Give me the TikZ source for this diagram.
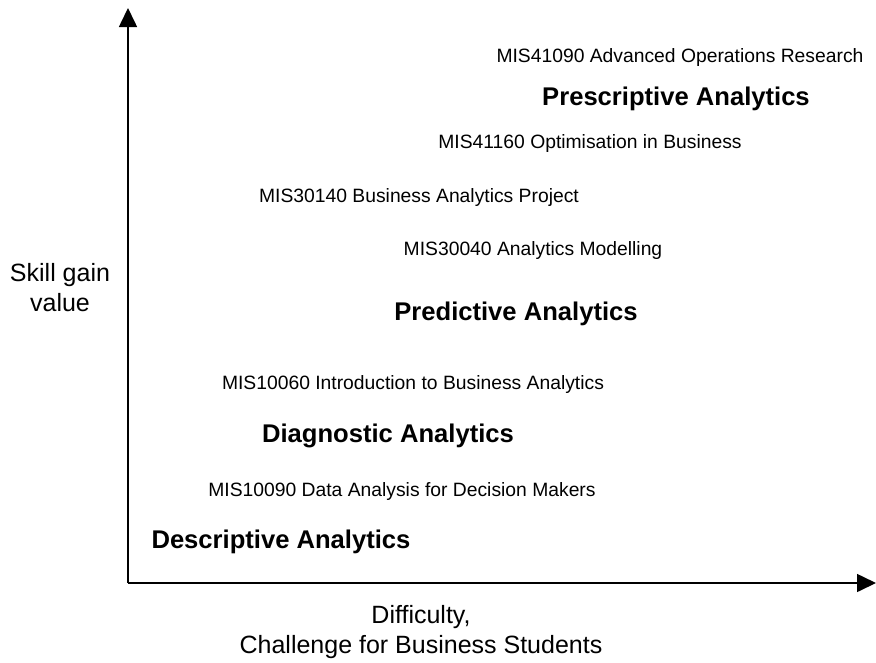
\documentclass[tikz,border=0pt]{standalone}
\usepackage{fontspec}
\setmainfont{Liberation Sans}
\usetikzlibrary{arrows.meta}
\begin{document}
\begin{tikzpicture}[x=1pt,y=-1pt,
  course/.style={font=\fontsize{19.3}{22}\selectfont, anchor=center, inner sep=0pt},
  level/.style={font=\fontsize{25.6}{30}\selectfont\bfseries, anchor=center, inner sep=0pt},
  axislabel/.style={font=\fontsize{25}{30}\selectfont, align=center, anchor=center, inner sep=0pt},
  axis/.style={line width=1.6pt, -{Triangle[length=19pt,width=18pt]}}]
\useasboundingbox (0,0) rectangle (876,662);
% axes
\coordinate (origin) at (128,583);
\coordinate (ytip) at (128,8);
\coordinate (xtip) at (876,583);
\draw[axis] (origin) -- (ytip);
\draw[axis] (origin) -- (xtip);
% axis labels
\node[axislabel] (ylab) at (60,288) {Skill gain\\value};
\node[axislabel] (xlab) at (421,632) {Difficulty,\\Challenge for Business Students};
% analytics levels and courses
\node[course] (c41090) at (680,58) {MIS41090 Advanced Operations Research};
\node[level] (presc) at (676,99) {Prescriptive Analytics};
\node[course] (c41160) at (590,144) {MIS41160 Optimisation in Business};
\node[course] (c30140) at (419,198) {MIS30140 Business Analytics Project};
\node[course] (c30040) at (533,251) {MIS30040 Analytics Modelling};
\node[level] (pred) at (516,314) {Predictive Analytics};
\node[course] (c10060) at (413,385) {MIS10060 Introduction to Business Analytics};
\node[level] (diag) at (388,436) {Diagnostic Analytics};
\node[course] (c10090) at (402,492) {MIS10090 Data Analysis for Decision Makers};
\node[level] (desc) at (281,542) {Descriptive Analytics};
\end{tikzpicture}
\end{document}
